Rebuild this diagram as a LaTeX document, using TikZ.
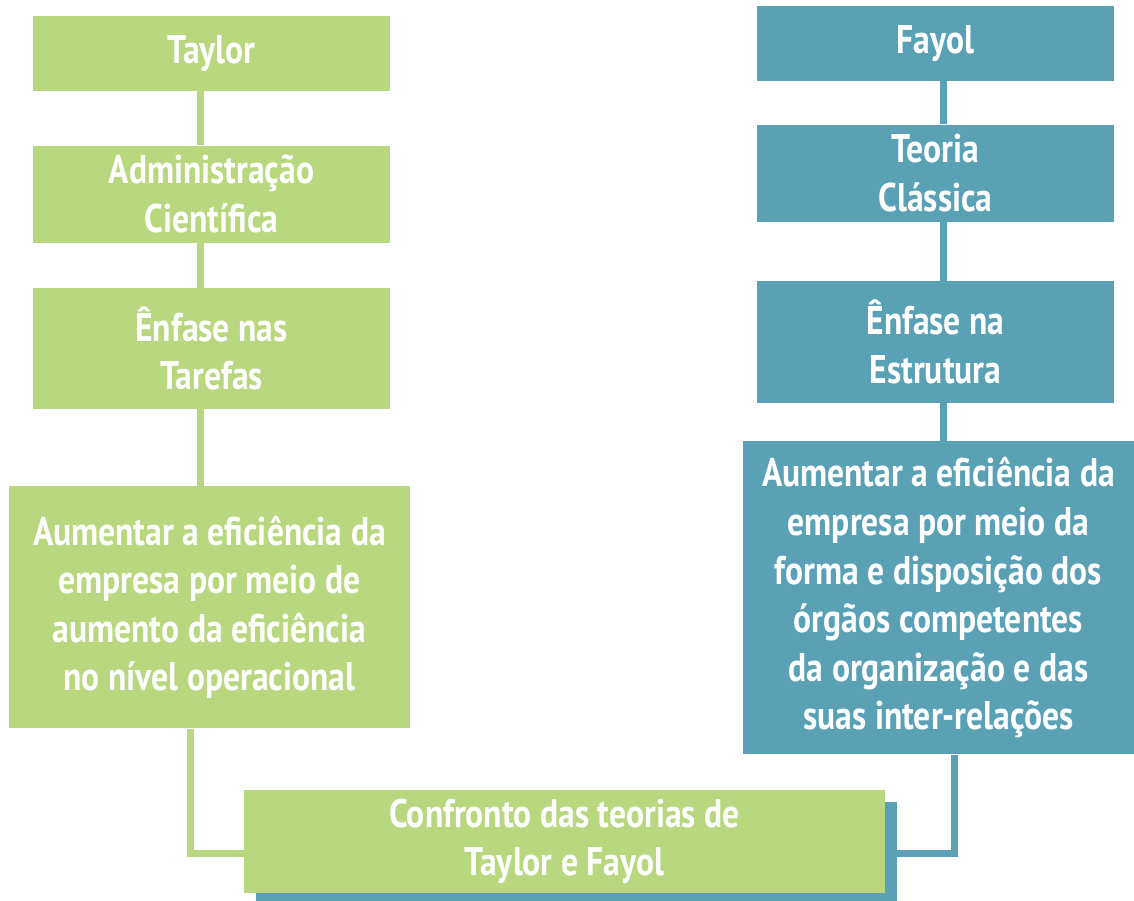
\documentclass[tikz,border=0pt]{standalone}
\usepackage{fontspec}
\setmainfont{PT Sans}[FakeStretch=0.84]
\usetikzlibrary{positioning,shadows}
\definecolor{taylorgreen}{RGB}{185,215,126}
\definecolor{fayolblue}{RGB}{90,161,182}
\tikzset{
  tbox/.style={fill=taylorgreen, text=white, font=\bfseries\fontsize{40}{48.6}\selectfont,
    align=center, inner sep=0pt, minimum width=357pt},
  fbox/.style={tbox, fill=fayolblue},
  tline/.style={draw=taylorgreen, line width=7pt},
  fline/.style={draw=fayolblue, line width=7pt}
}
\begin{document}
\begin{tikzpicture}[x=1pt,y=-1pt]
  \useasboundingbox (0,0) rectangle (1134,900);
  % Taylor
  \node[tbox, minimum height=75pt, anchor=north] (taylor) at (211.5,16) {Taylor};
  \node[tbox, minimum height=97pt, below=54pt of taylor] (admin) {Administração\\Científica};
  \node[tbox, minimum height=121pt, below=45pt of admin] (tarefas) {Ênfase nas\\Tarefas};
  \node[tbox, minimum height=242pt, minimum width=401pt, below=77pt of tarefas, xshift=-2pt] (taylorfim)
    {Aumentar a eficiência da\\empresa por meio de\\aumento da eficiência\\no nível operacional};
  % Fayol
  \node[fbox, minimum height=75pt, anchor=north] (fayol) at (935.5,6) {Fayol};
  \node[fbox, minimum height=97pt, below=43pt of fayol] (classica) {Teoria\\Clássica};
  \node[fbox, minimum height=122pt, below=59pt of classica] (estrutura) {Ênfase na\\Estrutura};
  \node[fbox, minimum height=313pt, minimum width=391pt, below=38pt of estrutura, xshift=3pt] (fayolfim)
    {Aumentar a eficiência da\\empresa por meio da\\forma e disposição dos\\órgãos competentes\\da organização e das\\suas inter-relações};
  % confronto
  \node[tbox, minimum width=641pt, minimum height=103pt,
    drop shadow={shadow xshift=12pt, shadow yshift=-12pt, fill=fayolblue, opacity=1}]
    (confronto) at (564.5,841.5) {Confronto das teorias de\\Taylor e Fayol};

  \draw[tline] ([xshift=-11.5pt]taylor.south) -- ([xshift=-11.5pt]admin.north);
  \draw[tline] ([xshift=-11.5pt]admin.south) -- ([xshift=-11.5pt]tarefas.north);
  \draw[tline] ([xshift=-11.5pt]tarefas.south) -- ([xshift=-9.5pt]taylorfim.north);
  \draw[tline] ([xshift=-19.5pt]taylorfim.south) |- ([yshift=-11.5pt]confronto.west);

  \draw[fline] ([xshift=7.5pt]fayol.south) -- ([xshift=7.5pt]classica.north);
  \draw[fline] ([xshift=7.5pt]classica.south) -- ([xshift=7.5pt]estrutura.north);
  \draw[fline] ([xshift=7.5pt]estrutura.south) -- ([xshift=4.5pt]fayolfim.north);
  \draw[fline] ([xshift=15.5pt]fayolfim.south) |- ([yshift=-11.5pt]confronto.east);
\end{tikzpicture}
\end{document}
